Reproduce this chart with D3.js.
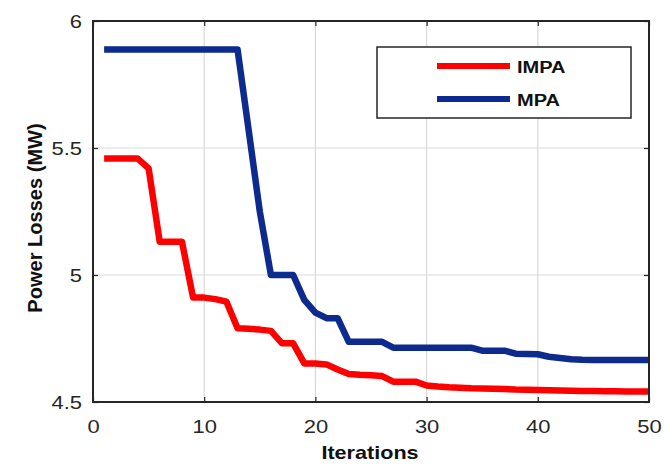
<!DOCTYPE html>
<html>
<head>
<meta charset="utf-8">
<script src="https://cdn.jsdelivr.net/npm/d3@7"></script>
<style>
  html, body { margin: 0; padding: 0; background: #fff; }
  svg { display: block; font-family: "Liberation Sans", Arial, sans-serif; }
</style>
</head>
<body>
<svg class="chart" width="664" height="464"></svg>
<script>
// values
const iterations = d3.range(1, 51);
const impaLoss = [5.459, 5.459, 5.459, 5.459, 5.420, 5.131, 5.131, 5.131, 4.911, 4.911,
    4.905, 4.895, 4.790, 4.788, 4.785, 4.780, 4.731, 4.731, 4.652, 4.652,
    4.648, 4.628, 4.610, 4.607, 4.605, 4.602, 4.580, 4.580, 4.580, 4.565,
    4.561, 4.558, 4.556, 4.554, 4.553, 4.552, 4.551, 4.549, 4.548, 4.547,
    4.546, 4.545, 4.544, 4.543, 4.543, 4.542, 4.542, 4.541, 4.541, 4.541];
const mpaLoss = [5.888, 5.888, 5.888, 5.888, 5.888, 5.888, 5.888, 5.888, 5.888, 5.888,
    5.888, 5.888, 5.888, 5.570, 5.250, 5.000, 5.000, 5.000, 4.902, 4.852,
    4.830, 4.830, 4.737, 4.737, 4.737, 4.737, 4.714, 4.714, 4.714, 4.714,
    4.714, 4.714, 4.714, 4.714, 4.702, 4.702, 4.702, 4.690, 4.689, 4.688,
    4.678, 4.673, 4.668, 4.666, 4.665, 4.665, 4.665, 4.665, 4.665, 4.665];
const xTicks = [0, 10, 20, 30, 40, 50];
const yTicks = [4.5, 5, 5.5, 6];
const seriesNames = ['IMPA', 'MPA'];
const seriesColors = ['#ff0000', '#0d2a8e'];

const margins = {left: 93, right: 15, top: 21, bottom: 62};
const width = 664, height = 464;
const plotW = width - margins.left - margins.right,
    plotH = height - margins.top - margins.bottom;
const textColor = '#262626';
const tickStretch = 1.22;

const svg = d3.select('.chart');
const g = svg.append('g').attr('transform', `translate(${margins.left}, ${margins.top})`);

const xScale = d3.scaleLinear().domain([0, 50]).range([0, plotW]);
const yScale = d3.scaleLinear().domain([4.5, 6]).range([plotH, 0]);

// grid
g.append('g').selectAll('line').data(xTicks.slice(1, -1)).join('line')
    .attr('x1', d => xScale(d)).attr('x2', d => xScale(d))
    .attr('y1', 0).attr('y2', plotH)
    .attr('stroke', '#d9d9d9').attr('stroke-width', 1.2);
g.append('g').selectAll('line').data(yTicks.slice(1, -1)).join('line')
    .attr('y1', d => yScale(d)).attr('y2', d => yScale(d))
    .attr('x1', 0).attr('x2', plotW)
    .attr('stroke', '#d9d9d9').attr('stroke-width', 1.2);

// axes (ticks pointing inward, box all around)
const styleAxis = sel => {
    sel.select('.domain').remove();
    sel.selectAll('line').attr('stroke', textColor).attr('stroke-width', 1.2);
    sel.selectAll('text').attr('fill', textColor).style('font-size', '18px');
};
g.append('g').attr('transform', `translate(0, ${plotH})`)
    .call(d3.axisBottom(xScale).tickValues(xTicks).tickSize(-5).tickPadding(18))
    .call(styleAxis)
    .call(a => a.selectAll('text')
        .attr('transform', `scale(${tickStretch}, 1.05)`)
        .attr('y', 18 / 1.05));
g.append('g')
    .call(d3.axisTop(xScale).tickValues(xTicks).tickSize(-5).tickFormat(''))
    .call(styleAxis);
g.append('g')
    .call(d3.axisLeft(yScale).tickValues(yTicks).tickSize(-5).tickFormat(d3.format('~g')))
    .call(styleAxis)
    .call(a => a.selectAll('text')
        .attr('transform', `scale(${tickStretch}, 1.05)`)
        .attr('x', -11 / tickStretch));
g.append('g').attr('transform', `translate(${plotW}, 0)`)
    .call(d3.axisRight(yScale).tickValues(yTicks).tickSize(-5).tickFormat(''))
    .call(styleAxis);

// lines
const seriesData = [impaLoss, mpaLoss];
const lineGen = d3.line()
    .x((d, i) => xScale(iterations[i]))
    .y(d => yScale(d));
g.append('g').selectAll('path').data(seriesData).join('path')
    .attr('d', lineGen)
    .attr('fill', 'none')
    .attr('stroke', (d, i) => seriesColors[i])
    .attr('stroke-width', 6.5)
    .attr('stroke-linejoin', 'round');

// box
g.append('rect').attr('width', plotW).attr('height', plotH)
    .attr('fill', 'none').attr('stroke', textColor).attr('stroke-width', 2);

// legend
const legend = g.append('g').attr('transform', `translate(${377 - margins.left}, ${47 - margins.top})`);
legend.append('rect').attr('width', 254).attr('height', 71)
    .attr('fill', '#fff').attr('stroke', textColor).attr('stroke-width', 1.5);
const legendItem = legend.selectAll('.item').data(seriesNames).join('g')
    .attr('transform', (d, i) => `translate(0, ${19 + i * 33})`);
legendItem.append('line')
    .attr('x1', 60).attr('x2', 133)
    .attr('stroke', (d, i) => seriesColors[i]).attr('stroke-width', 6);
legendItem.append('text')
    .attr('transform', 'translate(140, 7) scale(1.25, 1)')
    .attr('fill', '#111')
    .style('font-size', '16px').style('font-weight', 'bold')
    .text(d => d);

// axis labels
svg.append('text')
    .attr('transform', `translate(370, 459) scale(1.2, 1)`)
    .attr('text-anchor', 'middle')
    .attr('fill', '#111')
    .style('font-size', '18px').style('font-weight', 'bold')
    .text('Iterations');
svg.append('text')
    .attr('transform', `translate(42, 218) rotate(-90) scale(1.18, 1.2)`)
    .attr('text-anchor', 'middle')
    .attr('fill', '#111')
    .style('font-size', '17px').style('font-weight', 'bold')
    .text('Power Losses (MW)');
</script>
</body>
</html>
